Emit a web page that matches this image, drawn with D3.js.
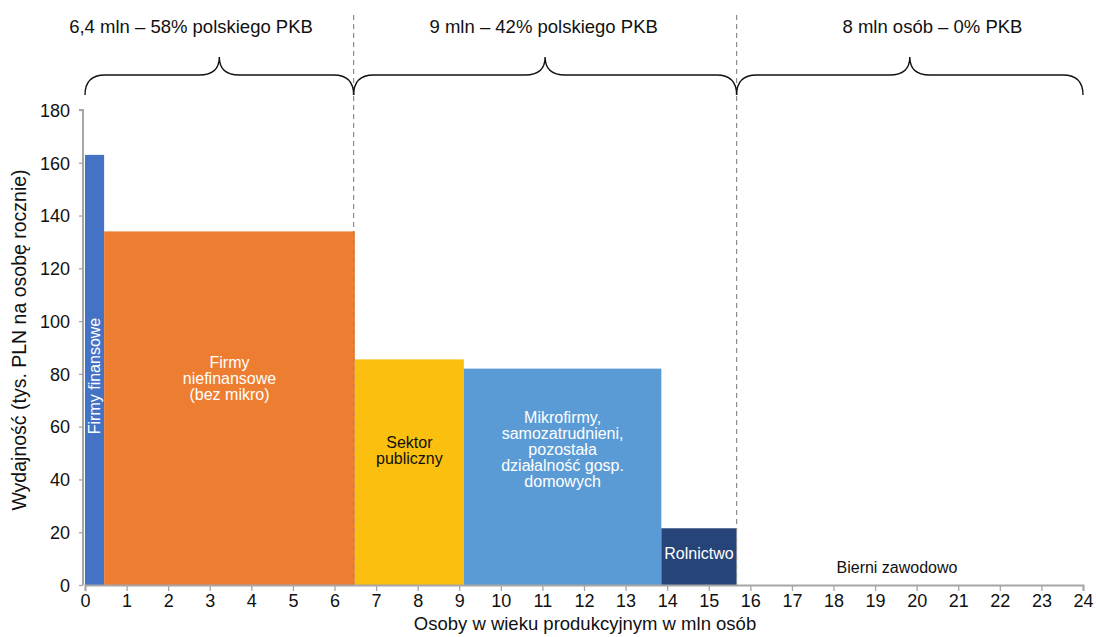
<!DOCTYPE html>
<html><head><meta charset="utf-8">
<script src="https://cdn.jsdelivr.net/npm/d3@7"></script>
<style>
body{margin:0;background:#fff;}
text{font-family:"Liberation Sans",Arial,Helvetica,sans-serif;}
</style></head>
<body><svg id="c" width="1096" height="637"></svg>
<script>
// ---- data ----
const categories = ["Firmy finansowe","Firmy niefinansowe (bez mikro)","Sektor publiczny","Mikrofirmy, samozatrudnieni, pozostała działalność gosp. domowych","Rolnictwo","Bierni zawodowo"];
const widths = [0.46, 6.03, 2.62, 4.75, 1.81, 8.33];      // mln persons
const productivity = [163, 134, 85.5, 82, 21.5, 0];       // tys. PLN per person
const colors = ["#4472C4","#ED7D31","#FBBF0F","#5B9BD5","#264478","none"];
const labelLines = [["Firmy finansowe"],["Firmy","niefinansowe","(bez mikro)"],["Sektor","publiczny"],["Mikrofirmy,","samozatrudnieni,","pozostała","działalność gosp.","domowych"],["Rolnictwo"],["Bierni zawodowo"]];
const labelColors = ["#fff","#fff","#111","#fff","#fff","#111"];
const groupBounds = [[0,6.46],[6.46,15.67],[15.67,24]];
const groupTitles = ["6,4 mln – 58% polskiego PKB","9 mln – 42% polskiego PKB","8 mln osób – 0% PKB"];
const groupTitleX = [2.55, 11.03, 20.38];
const xTicks = d3.range(0,25,1);
const yTicks = d3.range(0,181,20);

// ---- layout ----
const svg = d3.select("#c");
const x = d3.scaleLinear().domain([0,24]).range([85,1083]);
const y = d3.scaleLinear().domain([0,180]).range([585,110]);

let starts=[]; let acc=0; widths.forEach(w=>{starts.push(acc); acc+=w;});
const bars = categories.map((c,i)=>({c,x0:starts[i],x1:starts[i]+widths[i],v:productivity[i],col:colors[i]}));

svg.append("g").selectAll("rect").data(bars.filter(d=>d.col!=="none")).join("rect")
  .attr("x",d=>x(d.x0)).attr("width",d=>x(d.x1)-x(d.x0))
  .attr("y",d=>y(d.v)).attr("height",d=>y(0)-y(d.v))
  .attr("fill",d=>d.col);

// dashed separators
svg.append("g").selectAll("line").data(groupBounds.slice(1).map(d=>d[0])).join("line")
  .attr("x1",d=>x(d)).attr("x2",d=>x(d)).attr("y1",15).attr("y2",y(0))
  .attr("stroke","#8c8c8c").attr("stroke-width",1.2).attr("stroke-dasharray","5,4");

// axes
const xa = svg.append("g").attr("transform",`translate(0,${y(0)})`)
  .call(d3.axisBottom(x).tickValues(xTicks).tickSize(6).tickPadding(3).tickFormat(d3.format("d")));
const ya = svg.append("g").attr("transform",`translate(83,0)`)
  .call(d3.axisLeft(y).tickValues(yTicks).tickSize(4).tickPadding(9).tickFormat(d3.format("d")));
[xa,ya].forEach(a=>{
  a.select(".domain").attr("stroke","#a6a6a6").attr("stroke-width",2);
  a.selectAll(".tick line").attr("stroke","#a6a6a6").attr("stroke-width",1.3);
  a.selectAll("text").attr("font-size",18).attr("fill","#111")
   .attr("font-family","'Liberation Sans',Arial,sans-serif");
});
ya.select(".domain").attr("d",`M-4,${y(180)}H0V${y(0)}`);
ya.selectAll(".tick text").attr("dy","0.35em");

// bar labels
const fs=16, lh=16;
const labelMid = [376, 378, 450, 449, 553, 567];   // vertical centre of each label block (px)
bars.forEach((b,i)=>{
  const lines=labelLines[i];
  const cx=(x(b.x0)+x(b.x1))/2;
  if(i===0){
    svg.append("text").attr("transform",`translate(${cx+5},${labelMid[i]}) rotate(-90)`)
      .attr("text-anchor","middle").attr("font-size",fs).attr("fill",labelColors[i]).text(lines[0]);
    return;
  }
  const cy=labelMid[i];
  const t=svg.append("text").attr("text-anchor","middle").attr("font-size",fs).attr("fill",labelColors[i]);
  lines.forEach((l,j)=>{
    t.append("tspan").attr("x",i===5?897:cx).attr("y",cy+(j-(lines.length-1)/2)*lh).attr("dy","0.35em").text(l);
  });
});

// braces
const yb=95, yh=75, yt=57, r=20;
groupBounds.forEach((g,i)=>{
  const x0=x(g[0]), x1=x(g[1]), tip=(x0+x1)/2;
  const p=`M${x0},${yb} Q${x0},${yh} ${x0+r},${yh} L${tip-r},${yh} Q${tip},${yh} ${tip},${yt} Q${tip},${yh} ${tip+r},${yh} L${x1-r},${yh} Q${x1},${yh} ${x1},${yb}`;
  svg.append("path").attr("d",p).attr("fill","none").attr("stroke","#111").attr("stroke-width",1.4);
  svg.append("text").attr("x",x(groupTitleX[i])).attr("y",33).attr("text-anchor","middle")
    .attr("font-size",18.5).attr("fill","#111").text(groupTitles[i]);
});

// axis titles
svg.append("text").attr("x",585).attr("y",630).attr("text-anchor","middle").attr("font-size",18.5).attr("fill","#111")
  .text("Osoby w wieku produkcyjnym w mln osób");
svg.append("text").attr("transform","translate(26,340) rotate(-90)").attr("text-anchor","middle").attr("font-size",19.5).attr("fill","#111")
  .text("Wydajność (tys. PLN na osobę rocznie)");
</script></body></html>
